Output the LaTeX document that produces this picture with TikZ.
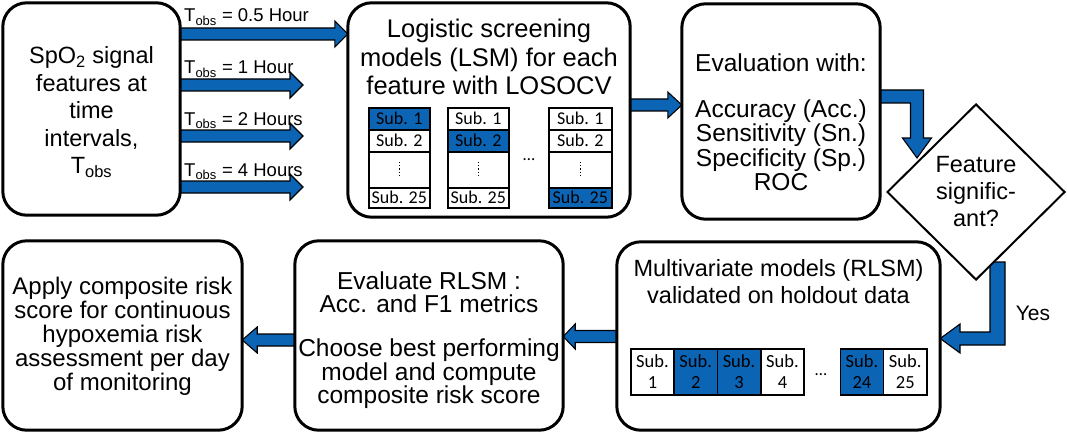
\documentclass[tikz,border=0pt]{standalone}
\usepackage{fontspec}
\setmainfont{Liberation Sans}
\newfontfamily\calib{Carlito}
\usetikzlibrary{calc,shapes.geometric}
\definecolor{fblue}{RGB}{12,100,180}
\newcommand\rarr[4]{\draw[fatarrow] let \p1=#1, \p2=#2 in
  (\x1,\y1+6pt) -- (\x2-#3,\y1+6pt) -- (\x2-#3,\y1+#4) -- (\x2,\y1) --
  (\x2-#3,\y1-#4) -- (\x2-#3,\y1-6pt) -- (\x1,\y1-6pt) -- cycle;}
\newcommand\larr[4]{\draw[fatarrow] let \p1=#1, \p2=#2 in
  (\x1,\y1+6pt) -- (\x2+#3,\y1+6pt) -- (\x2+#3,\y1+#4) -- (\x2,\y1) --
  (\x2+#3,\y1-#4) -- (\x2+#3,\y1-6pt) -- (\x1,\y1-6pt) -- cycle;}
\begin{document}
\begin{tikzpicture}[x=1pt,y=-1pt,
  txt/.style 2 args={align=center, inner sep=0pt, font=\fontsize{#1}{#2}\selectfont},
  lbl/.style={inner sep=0pt, anchor=base west, font=\fontsize{18.5}{20}\selectfont},
  fatarrow/.style={fill=fblue, draw=black, line width=1.1pt, line join=miter},
  cell/.style={draw, line width=1.6pt, inner sep=0pt, anchor=north west,
    font=\calib\fontsize{18}{19}\selectfont},
  bcell/.style={cell, fill=fblue},
  cellb/.style={draw, line width=1.6pt, inner sep=0pt, anchor=north west, align=center,
    minimum width=43.3pt, minimum height=46pt, font=\calib\fontsize{18.5}{21}\selectfont},
  bcellb/.style={cellb, fill=fblue},
  vdot/.style={line width=1.3pt, dash pattern=on 1.3pt off 2pt},
]
\useasboundingbox (0,0) rectangle (1067,433);

% named coordinates for free arrow ends
\coordinate (t2) at (303,85);
\coordinate (t3) at (303,136);
\coordinate (t4) at (303,187);
\coordinate (e1) at (917,158);
\coordinate (y0) at (997.5,262);

% geometry nodes for the boxes (outlines drawn after the arrows)
\path (91.5,109) node[minimum width=177pt, minimum height=212pt, inner sep=0pt] (b1) {};
\path (489,110) node[minimum width=282pt, minimum height=214pt, inner sep=0pt] (b2) {};
\path (781,111.5) node[minimum width=198pt, minimum height=215pt, inner sep=0pt] (b3) {};
\path (778.5,336) node[minimum width=323pt, minimum height=188pt, inner sep=0pt] (b4) {};
\path (429,335.5) node[minimum width=268pt, minimum height=189pt, inner sep=0pt] (b5) {};
\path (122.5,335.5) node[minimum width=239pt, minimum height=189pt, inner sep=0pt] (b6) {};

% arrows
\rarr{(b1.east |- 0,34)}{(b2.west |- 0,34)}{13pt}{13pt}
\rarr{(b1.east |- t2)}{(t2)}{13pt}{13pt}
\rarr{(b1.east |- t3)}{(t3)}{13pt}{13pt}
\rarr{(b1.east |- t4)}{(t4)}{13pt}{13pt}
\rarr{(b2.east |- 0,105)}{(b3.west |- 0,105)}{14pt}{13pt}
\draw[fatarrow] (b3.east |- 0,90) -- (923.5,90) -- (923.5,138) -- (931.5,138) -- (e1)
  -- (902.5,138) -- (910.5,138) -- (910.5,103) -- (b3.east |- 0,103) -- cycle;
\draw[fatarrow] ($(y0)+(-7.5,0)$) -- ($(y0)+(7.5,0)$) -- (1005,345) -- (960,345) -- (960,353)
  -- (b4.east |- 0,338.5) -- (960,324) -- (960,332) -- (990,332) -- cycle;
\larr{(b4.west |- 0,336.5)}{(b5.east |- 0,336.5)}{12pt}{12.5pt}
\larr{(b5.west |- 0,340)}{(b6.east |- 0,340)}{15pt}{13pt}

% boxes
\foreach \b in {b1,b2,b3,b4,b5,b6}
  \draw[line width=3pt, rounded corners=24pt, fill=white] (\b.north west) rectangle (\b.south east);

% diamond
\node[diamond, draw, line width=2pt, fill=white, minimum width=178pt, minimum height=176pt,
  inner sep=0pt, align=center, font=\fontsize{23.5}{27}\selectfont] (dia) at (976,192)
  {Feature\\signific-\\ant?};

% arrow labels
\node[lbl] (l1) at (184,22) {T\textsubscript{obs} = 0.5 Hour};
\node[lbl] (l2) at (184,74) {T\textsubscript{obs} = 1 Hour};
\node[lbl] (l3) at (184,125) {T\textsubscript{obs} = 2 Hours};
\node[lbl] (l4) at (184,176) {T\textsubscript{obs} = 4 Hours};
\node[inner sep=0pt, font=\fontsize{21}{24}\selectfont] (yes) at (1033,313) {Yes};

% box texts
\node[txt={23.5}{27.5}] (b1t) at (91.5,112) {SpO\textsubscript{2} signal\\features at\\time\\intervals,\\T\textsubscript{obs}};
\node[txt={25.5}{28.5}] (b2t) at (489,57) {Logistic screening\\models (LSM) for each\\feature with LOSOCV};
\node[txt={24.5}{25}] (b3a) at (781,63) {Evaluation with:};
\node[txt={24.5}{24.5}] (b3t) at (781,145) {Accuracy (Acc.)\\Sensitivity (Sn.)\\Specificity (Sp.)\\ROC};
\node[txt={23.5}{27}] (b4t) at (778.5,282) {Multivariate models (RLSM)\\validated on holdout data};
\node[txt={24.5}{23.5}] (b5a) at (429,292) {Evaluate RLSM :\\Acc. and F1 metrics};
\node[txt={24.5}{23.5}] (b5b) at (429,374) {Choose best performing\\model and compute\\composite risk score};
\node[txt={24}{24}] (b6t) at (122.5,336.5) {Apply composite risk\\score for continuous\\hypoxemia risk\\assessment per day\\of monitoring};

% LOSOCV tables
\foreach \x/\w [count=\i] in {368/61, 447/61, 548/63} {
  \node[cell, minimum width=\w pt, minimum height=22pt] (s\i a) at (\x,107) {Sub. 1};
  \node[cell, minimum width=\w pt, minimum height=22pt] (s\i b) at (\x,129) {Sub. 2};
  \node[cell, minimum width=\w pt, minimum height=36pt] (s\i c) at (\x,151) {};
  \node[cell, minimum width=\w pt, minimum height=20pt] (s\i d) at (\x,187) {Sub. 25};
  \draw[vdot] ($(s\i c.center)+(0,-8)$) -- ($(s\i c.center)+(0,8)$);
}
\node[bcell, minimum width=61pt, minimum height=22pt] (s1h) at (368,107) {Sub. 1};
\node[bcell, minimum width=61pt, minimum height=22pt] (s2h) at (447,129) {Sub. 2};
\node[bcell, minimum width=63pt, minimum height=20pt] (s3h) at (548,187) {Sub. 25};
\node[inner sep=0pt, font=\calib\fontsize{17}{18}\selectfont] (dd1) at (529,160) {\ldots};

% holdout table
\node[cellb] (h1) at (630,348) {Sub.\\1};
\node[bcellb] (h2) at (673.3,348) {Sub.\\2};
\node[bcellb] (h3) at (716.6,348) {Sub.\\3};
\node[cellb] (h4) at (760,348) {Sub.\\4};
\node[inner sep=0pt, font=\calib\fontsize{17}{18}\selectfont] (dd2) at (821,375) {\ldots};
\node[bcellb] (h24) at (839.5,348) {Sub.\\24};
\node[cellb] (h25) at (882.8,348) {Sub.\\25};
\end{tikzpicture}
\end{document}
